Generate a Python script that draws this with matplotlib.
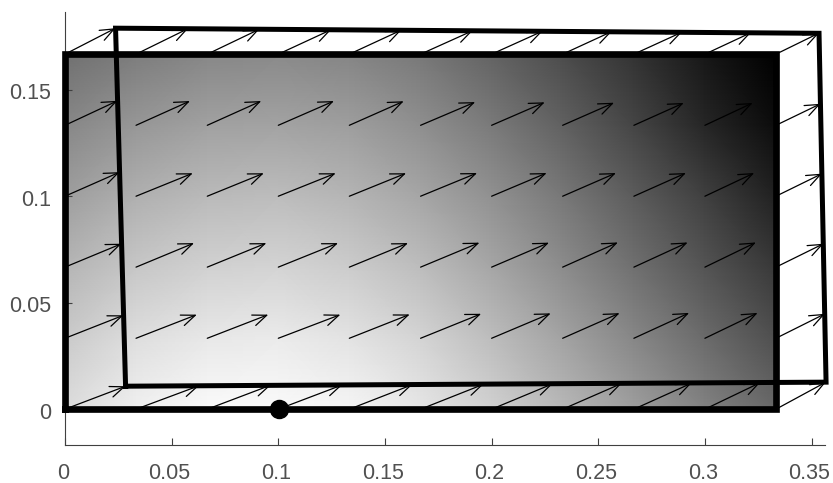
import numpy as np
import matplotlib
matplotlib.use("Agg")
import matplotlib.pyplot as plt
from matplotlib.transforms import ScaledTranslation

plt.rcParams['font.family'] = ['Liberation Sans', 'DejaVu Sans']

# grid nodes of the plate
x_nodes = [0, 0.0333, 0.0667, 0.1, 0.1333, 0.1667, 0.2, 0.2333, 0.2667, 0.3, 0.3333]
y_nodes = [0, 0.0333, 0.0667, 0.1, 0.1333, 0.1667]

# displacement at each node, rows go bottom to top
U = [
    [.0284, .0295, .0298, .0300, .0295, .0295, .0286, .0277, .0270, .0258, .0234],
    [.0274, .0285, .0286, .0291, .0283, .0284, .0277, .0267, .0259, .0247, .0230],
    [.0265, .0272, .0277, .0280, .0275, .0276, .0269, .0259, .0252, .0239, .0223],
    [.0256, .0266, .0265, .0269, .0266, .0265, .0258, .0250, .0244, .0231, .0216],
    [.0246, .0253, .0253, .0261, .0255, .0256, .0249, .0241, .0234, .0224, .0209],
    [.0237, .0244, .0244, .0248, .0244, .0244, .0239, .0230, .0225, .0216, .0202],
]
V = [
    [.0108, .0110, .0113, .0114, .0115, .0117, .0119, .0121, .0122, .0124, .0127],
    [.0108, .0111, .0111, .0111, .0112, .0115, .0117, .0118, .0119, .0119, .0115],
    [.0110, .0113, .0113, .0113, .0113, .0115, .0115, .0116, .0116, .0116, .0110],
    [.0113, .0108, .0108, .0108, .0108, .0109, .0109, .0109, .0109, .0109, .0106],
    [.0115, .0114, .0114, .0114, .0113, .0109, .0108, .0106, .0105, .0105, .0101],
    [.0122, .0120, .0117, .0115, .0113, .0110, .0108, .0106, .0103, .0101, .0099],
]

# gray level of the shading, read at the same nodes
shade = [
    [.86, .94, .98, .98, .96, .90, .82, .72, .62, .51, .41],
    [.79, .87, .91, .92, .89, .83, .74, .64, .53, .42, .31],
    [.71, .78, .82, .83, .80, .74, .65, .55, .44, .33, .22],
    [.62, .69, .73, .74, .71, .65, .57, .47, .36, .25, .13],
    [.53, .59, .63, .64, .62, .56, .48, .38, .27, .15, .05],
    [.44, .49, .53, .54, .52, .47, .39, .30, .20, .09, .00],
]

# outlines
plate_x = [0, 0.3333, 0.3333, 0, 0]
plate_y = [0, 0, 0.1667, 0.1667, 0]
moved_x = [0.0284, 0.3568, 0.3535, 0.0237, 0.0284]
moved_y = [0.0108, 0.0127, 0.1765, 0.1789, 0.0108]
dot_x = [0.1005]
dot_y = [0]

xticks = [0, 0.05, 0.1, 0.15, 0.2, 0.25, 0.3, 0.35]
xticklabels = ['0', '0.05', '0.1', '0.15', '0.2', '0.25', '0.3', '0.35']
yticks = [0, 0.05, 0.1, 0.15]
yticklabels = ['0', '0.05', '0.1', '0.15']

W, H = 833, 483
fig = plt.figure(figsize=(W / 100, H / 100), dpi=100)
ax = fig.add_axes([65 / W, (H - 445.3) / H, (825 - 65) / W, (445.3 - 12) / H])

ax.pcolormesh(x_nodes, y_nodes, np.array(shade), cmap='gray', vmin=0, vmax=1,
              shading='gouraud', zorder=1)
ax.set_xlim(0, 0.3563)
ax.set_ylim(-0.01695, 0.1865)

for j, y in enumerate(y_nodes):
    for i, x in enumerate(x_nodes):
        ax.annotate('', xy=(x + U[j][i], y + V[j][i]), xytext=(x, y), zorder=2,
                    annotation_clip=False,
                    arrowprops=dict(arrowstyle='->,head_length=1.0,head_width=0.4',
                                    mutation_scale=10, lw=0.9, color='black',
                                    shrinkA=0, shrinkB=0))

ax.plot(plate_x, plate_y, color='black', lw=4.8, zorder=3, clip_on=False,
        solid_joinstyle='miter')
ax.plot(moved_x, moved_y, color='black', lw=3.6, zorder=4, clip_on=False,
        solid_joinstyle='miter')
ax.plot(dot_x, dot_y, 'o', color='black', ms=13, zorder=5, clip_on=False)

for s in ['top', 'right']:
    ax.spines[s].set_visible(False)
for s in ['left', 'bottom']:
    ax.spines[s].set_color('#404040')
    ax.spines[s].set_linewidth(0.8)

ax.set_xticks(xticks)
ax.set_xticklabels(xticklabels)
ax.set_yticks(yticks)
ax.set_yticklabels(yticklabels)
ax.tick_params(direction='in', length=5, width=0.8, color='#404040',
               labelcolor='#505050', labelsize=15.5)
ax.tick_params(axis='x', pad=13)
ax.tick_params(axis='y', pad=10)
# the labels sit a little off their ticks in the original
for lab in ax.get_xticklabels():
    lab.set_transform(lab.get_transform() + ScaledTranslation(-2 / 100, 0, fig.dpi_scale_trans))
for lab in ax.get_yticklabels():
    lab.set_transform(lab.get_transform() + ScaledTranslation(0, -1.5 / 100, fig.dpi_scale_trans))

fig.savefig('out.png', dpi=100)
